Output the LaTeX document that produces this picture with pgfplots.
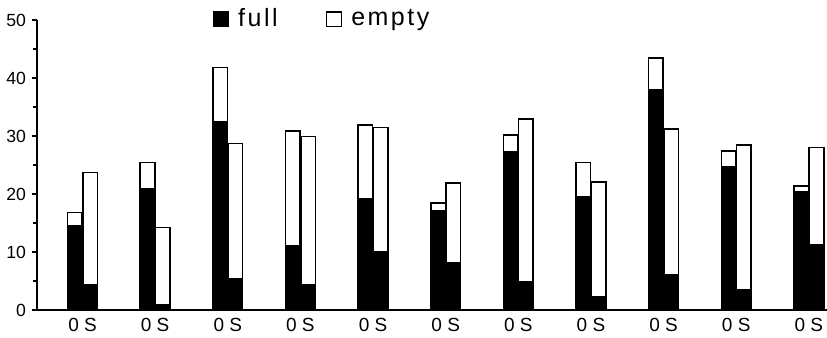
\documentclass[border=0pt]{standalone}
\usepackage{fontspec}
\setmainfont{Liberation Sans}
\newfontfamily\legfont{Liberation Sans}[LetterSpace=10]
\usepackage{pgfplots}
\usepackage{pgfplotstable}
\pgfplotsset{compat=1.18}
\pgfplotstableread{
x full empty
0.895 14.6 2.2
1.105 4.3 19.4
1.895 20.9 4.5
2.105 0.9 13.3
2.895 32.5 9.3
3.105 5.4 23.3
3.895 11.1 19.8
4.105 4.3 25.6
4.895 19.1 12.8
5.105 10.1 21.4
5.895 17.1 1.3
6.105 8.2 13.7
6.895 27.2 3.0
7.105 4.8 28.1
7.895 19.5 5.9
8.105 2.2 19.9
8.895 37.9 5.5
9.105 6.0 25.2
9.895 24.7 2.7
10.105 3.4 25.1
10.895 20.3 1.1
11.105 11.3 16.7
}\datatable
\begin{document}
\begin{tikzpicture}
\useasboundingbox (-18.5pt,-14pt) rectangle (395pt,155pt);
\begin{axis}[
  at={(0,0)}, anchor=origin,
  scale only axis,
  width=395pt, height=145pt,
  xmin=0.373, xmax=11.25,
  ymin=0, ymax=50,
  axis lines*=left,
  axis line style={line width=0.9pt},
  ytick={0,10,20,30,40,50},
  minor ytick={5,15,25,35,45},
  tick align=outside,
  major tick length=2.5pt,
  minor tick length=2pt,
  every tick/.style={black, line width=0.8pt},
  xtick={1,2,3,4,5,6,7,8,9,10,11},
  xticklabels={0 S,0 S,0 S,0 S,0 S,0 S,0 S,0 S,0 S,0 S,0 S},
  x tick style={draw=none},
  x tick label style={font=\fontsize{9.5pt}{11pt}\selectfont, yshift=2pt},
  y tick label style={font=\fontsize{8.8pt}{10pt}\selectfont, xshift=0.5pt},
  /pgf/number format/assume math mode=true,
  ybar stacked,
  bar width=0.2,
  legend style={at={(0.362,1.003)}, anchor=center, draw=none, fill=none,
    font=\legfont\fontsize{12.5pt}{13pt}\selectfont, legend columns=2,
    /tikz/every odd column/.append style={column sep=2.5pt},
    /tikz/every even column/.append style={column sep=22pt}},
  legend image code/.code={\draw[#1, line width=0.8pt] (0pt,-3.7pt) rectangle (7.5pt,3.7pt);},
]
\addplot[fill=black, draw=black, line width=0.8pt] table[x=x, y=full] {\datatable};
\addlegendentry{full}
\addplot[fill=white, draw=black, line width=0.8pt] table[x=x, y=empty] {\datatable};
\addlegendentry{empty}
\end{axis}
\end{tikzpicture}
\end{document}
